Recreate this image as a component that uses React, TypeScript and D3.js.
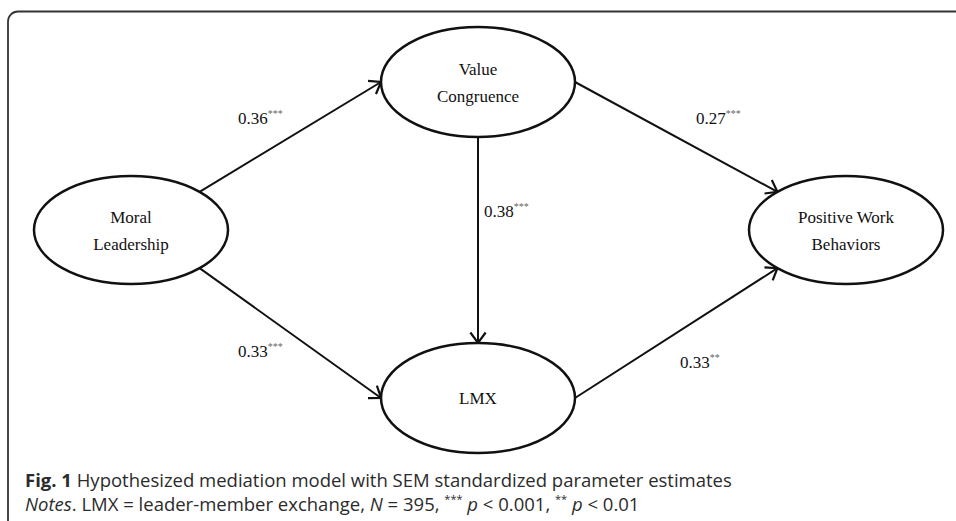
import * as d3 from 'd3';
import { useEffect, useRef } from 'react';

// Latent variables of the path model (ellipse centres and radii)
const nodeNames = ['ML', 'VC', 'LMX', 'PWB'];
const nodeLines = [['Moral', 'Leadership'], ['Value', 'Congruence'], ['LMX'], ['Positive Work', 'Behaviors']];
const nodeX = [131, 478, 478, 846];
const nodeY = [230, 82, 398, 230];
const nodeRx = [97, 97, 97, 97];
const nodeRy = [54, 55, 55, 54];

// Paths: source, target, anchor angle on source / target ellipse (degrees)
const edgeFrom = ['ML', 'VC', 'VC', 'ML', 'LMX'];
const edgeTo = ['VC', 'PWB', 'LMX', 'LMX', 'PWB'];
const edgeFromAngle = [-45, 0, 90, 45, 0];
const edgeToAngle = [180, -135, -90, 180, 135];

// Standardized estimates and significance stars
const estimates = ['0.36', '0.27', '0.38', '0.33', '0.33'];
const stars = ['***', '***', '***', '***', '**'];
const labelX = [238, 696, 484, 238, 680];
const labelY = [124, 124, 217, 357, 368];

const caption = 'Hypothesized mediation model with SEM standardized parameter estimates';

export default function App() {
  const svgRef = useRef(null);

  useEffect(() => {
    d3.select(svgRef.current).selectAll('*').remove();

    const width = 956;
    const height = 521;
    const ink = '#111';

    const svg = d3.select(svgRef.current)
      .attr('viewBox', [0, 0, width, height])
      .attr('width', width)
      .attr('height', height)
      .style('display', 'block')
      .style('background', '#fff');

    // figure frame, runs off the right and bottom edges
    svg.append('rect')
      .attr('x', 8)
      .attr('y', 11.5)
      .attr('width', width + 20)
      .attr('height', height + 20)
      .attr('rx', 10)
      .attr('fill', 'none')
      .attr('stroke', '#333')
      .attr('stroke-width', 1.8);

    const nodes = nodeNames.map((name, i) => ({
      name, lines: nodeLines[i], x: nodeX[i], y: nodeY[i], rx: nodeRx[i], ry: nodeRy[i]
    }));
    const byName = new Map(nodes.map(d => [d.name, d]));

    const onEllipse = (n, deg) => {
      const t = (deg * Math.PI) / 180;
      return [n.x + n.rx * Math.cos(t), n.y + n.ry * Math.sin(t)];
    };

    const line = d3.line();

    // arrows
    edgeFrom.forEach((from, i) => {
      const p0 = onEllipse(byName.get(from), edgeFromAngle[i]);
      const p1 = onEllipse(byName.get(edgeTo[i]), edgeToAngle[i]);
      svg.append('path')
        .attr('d', line([p0, p1]))
        .attr('fill', 'none')
        .attr('stroke', ink)
        .attr('stroke-width', 2);

      // open chevron head
      const a = Math.atan2(p0[1] - p1[1], p0[0] - p1[0]);
      const len = 13;
      const spread = (36 * Math.PI) / 180;
      const arm1 = [p1[0] + len * Math.cos(a + spread), p1[1] + len * Math.sin(a + spread)];
      const arm2 = [p1[0] + len * Math.cos(a - spread), p1[1] + len * Math.sin(a - spread)];
      svg.append('path')
        .attr('d', line([arm1, p1, arm2]))
        .attr('fill', 'none')
        .attr('stroke', ink)
        .attr('stroke-width', 2.2)
        .attr('stroke-linejoin', 'miter');
    });

    // ellipses
    const g = svg.append('g');
    g.selectAll('ellipse')
      .data(nodes)
      .join('ellipse')
      .attr('cx', d => d.x)
      .attr('cy', d => d.y)
      .attr('rx', d => d.rx)
      .attr('ry', d => d.ry)
      .attr('fill', '#fff')
      .attr('stroke', ink)
      .attr('stroke-width', 2.5);

    g.selectAll('text')
      .data(nodes)
      .join('text')
      .attr('font-family', '"Liberation Serif", "Times New Roman", serif')
      .attr('font-size', 17)
      .attr('fill', '#111')
      .attr('text-anchor', 'middle')
      .each(function (d) {
        const t = d3.select(this);
        const offsets = d.lines.length === 1 ? [6] : [-7, 20];
        d.lines.forEach((s, k) => {
          t.append('tspan').attr('x', d.x).attr('y', d.y + offsets[k]).text(s);
        });
      });

    // path estimates
    estimates.forEach((v, i) => {
      const t = svg.append('text')
        .attr('x', labelX[i])
        .attr('y', labelY[i])
        .attr('font-family', '"Liberation Serif", "Times New Roman", serif')
        .attr('font-size', 17)
        .attr('fill', '#111');
      t.append('tspan').text(v);
      t.append('tspan')
        .attr('dy', -7)
        .attr('font-size', 10)
        .attr('fill', '#666')
        .text(stars[i]);
    });

    // caption
    const cap = svg.append('g')
      .attr('font-family', '"Open Sans", "Noto Sans", sans-serif')
      .attr('font-size', 18.5)
      .attr('fill', '#2b2b2b');

    const l1 = cap.append('text').attr('x', 25).attr('y', 487);
    l1.append('tspan').attr('font-weight', 'bold').text('Fig. 1');
    l1.append('tspan').text(' ' + caption);

    const l2 = cap.append('text').attr('x', 25).attr('y', 511);
    l2.append('tspan').attr('font-style', 'italic').text('Notes');
    l2.append('tspan').text('. LMX = leader-member exchange, ');
    l2.append('tspan').attr('font-style', 'italic').text('N');
    l2.append('tspan').text(' = 395, ');
    l2.append('tspan').attr('dy', -8).attr('font-size', 11).text('***');
    l2.append('tspan').attr('dy', 8).text(' ');
    l2.append('tspan').attr('font-style', 'italic').text('p');
    l2.append('tspan').text(' < 0.001, ');
    l2.append('tspan').attr('dy', -8).attr('font-size', 11).text('**');
    l2.append('tspan').attr('dy', 8).text(' ');
    l2.append('tspan').attr('font-style', 'italic').text('p');
    l2.append('tspan').text(' < 0.01');
  }, []);

  return (
    <div style={{ position: 'fixed', left: 0, top: 0 }}>
      <svg ref={svgRef} />
    </div>
  );
}
